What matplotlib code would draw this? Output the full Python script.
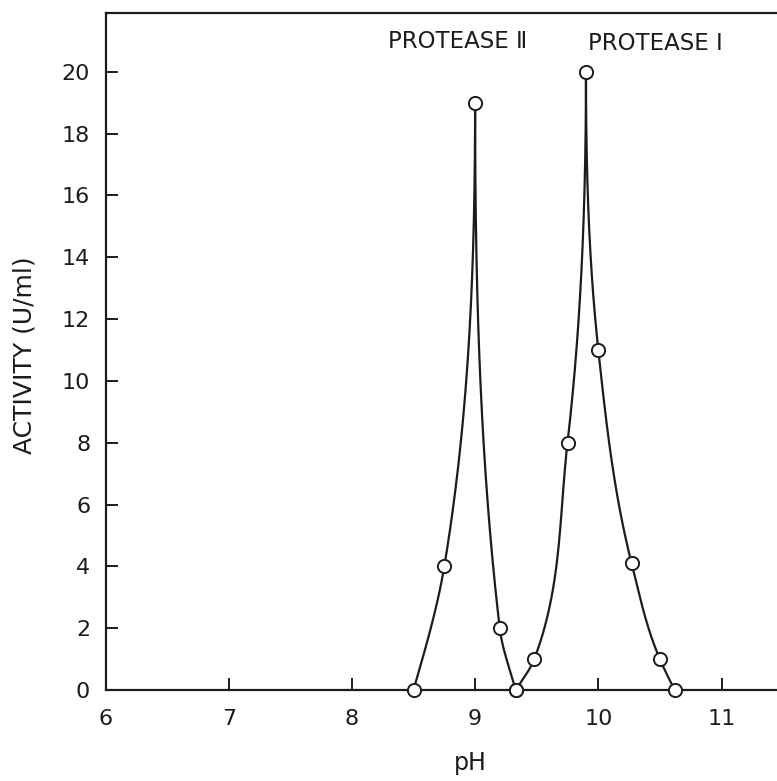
import numpy as np
import matplotlib
matplotlib.use("Agg")
import matplotlib.pyplot as plt

# pH activity profiles of the two proteases (U/ml)
ph_protease2 = [8.5, 8.75, 9.0, 9.2, 9.33]
act_protease2 = [0, 4, 19, 2, 0]
ph_protease1 = [9.33, 9.48, 9.75, 9.9, 10.0, 10.27, 10.5, 10.62]
act_protease1 = [0, 1, 8, 20, 11, 4.1, 1, 0]

x_ticks = [6, 7, 8, 9, 10, 11]
y_ticks = list(range(0, 21, 2))

INK = "#1c1c1c"


def _flank(ak, pk, an):
    """Hermite spline of pH against activity for one side of a peak.
    Knots run from the base (activity 0) up to the maximum, where the
    tangent is vertical so the two sides meet in a point."""
    ak = np.asarray(ak, float)
    pk = np.asarray(pk, float)
    h = np.diff(ak)
    d = np.diff(pk) / h
    n = len(ak)
    m = np.zeros(n)
    for k in range(1, n - 1):
        if d[k - 1] * d[k] <= 0:
            continue
        v = (h[k] * d[k - 1] + h[k - 1] * d[k]) / (h[k - 1] + h[k])
        lim = 2.5 * min(abs(d[k - 1]), abs(d[k]))
        m[k] = np.sign(v) * min(abs(v), lim)
    if n > 2:
        v = ((2 * h[0] + h[1]) * d[0] - h[0] * d[1]) / (h[0] + h[1])
        m[0] = v if np.sign(v) == np.sign(d[0]) else 0.0
    else:
        m[0] = d[0]
    m[-1] = 0.0
    idx = np.clip(np.searchsorted(ak, an) - 1, 0, n - 2)
    t = (an - ak[idx]) / h[idx]
    h00 = 2 * t**3 - 3 * t**2 + 1
    h10 = t**3 - 2 * t**2 + t
    h01 = -2 * t**3 + 3 * t**2
    h11 = t**3 - t**2
    return (h00 * pk[idx] + h10 * h[idx] * m[idx]
            + h01 * pk[idx + 1] + h11 * h[idx] * m[idx + 1])


def peak_curve(ph, act):
    ph = np.asarray(ph, float)
    act = np.asarray(act, float)
    k = int(np.argmax(act))
    la, lp = act[:k + 1], ph[:k + 1]
    ra, rp = act[k:][::-1], ph[k:][::-1]
    a1 = np.linspace(la[0], la[-1], 300)
    a2 = np.linspace(ra[-1], ra[0], 300)
    x = np.concatenate([_flank(la, lp, a1), _flank(ra, rp, a2[::-1])[::-1]])
    y = np.concatenate([a1, a2])
    return x, y


fig = plt.figure(figsize=(7.77, 7.81), dpi=100)
ax = fig.add_axes([105.5 / 777, 91 / 781, 694.8 / 777, 677 / 781])

for ph, act in ((ph_protease2, act_protease2), (ph_protease1, act_protease1)):
    cx, cy = peak_curve(ph, act)
    ax.plot(cx, cy, color=INK, linewidth=1.6, zorder=2, clip_on=False)
    ax.plot(ph, act, linestyle="none", marker="o", markersize=9.5,
            markerfacecolor="white", markeredgecolor=INK,
            markeredgewidth=1.4, zorder=3, clip_on=False)

ax.set_xlim(6, 6 + 694.8 / 123.2)
ax.set_ylim(0, 21.9)
ax.set_xticks(x_ticks)
ax.set_yticks(y_ticks)
ax.set_xticklabels([str(v) for v in x_ticks])
ax.set_yticklabels([str(v) for v in y_ticks])

ax.tick_params(axis="both", direction="in", length=8.5, width=1.4,
               colors=INK, labelsize=16)
ax.tick_params(axis="x", pad=13.5)
ax.tick_params(axis="y", pad=11)
for side in ("left", "bottom", "top"):
    ax.spines[side].set_linewidth(1.6)
    ax.spines[side].set_color(INK)
ax.spines["right"].set_visible(False)

ax.set_ylabel("ACTIVITY (U/ml)", fontsize=18, color=INK, va="center")
ax.yaxis.set_label_coords(-0.116, 0.495)
ax.set_xlabel("pH", fontsize=17, color=INK, va="center")
ax.xaxis.set_label_coords(0.5246, -0.108)

ax.text(8.861, 20.97, "PROTEASE \u2161", fontsize=16.5, color=INK,
        ha="center", va="center")
ax.text(10.46, 20.9, "PROTEASE \u2160", fontsize=16.5, color=INK,
        ha="center", va="center")

fig.savefig("out.png", dpi=100, facecolor="white")
